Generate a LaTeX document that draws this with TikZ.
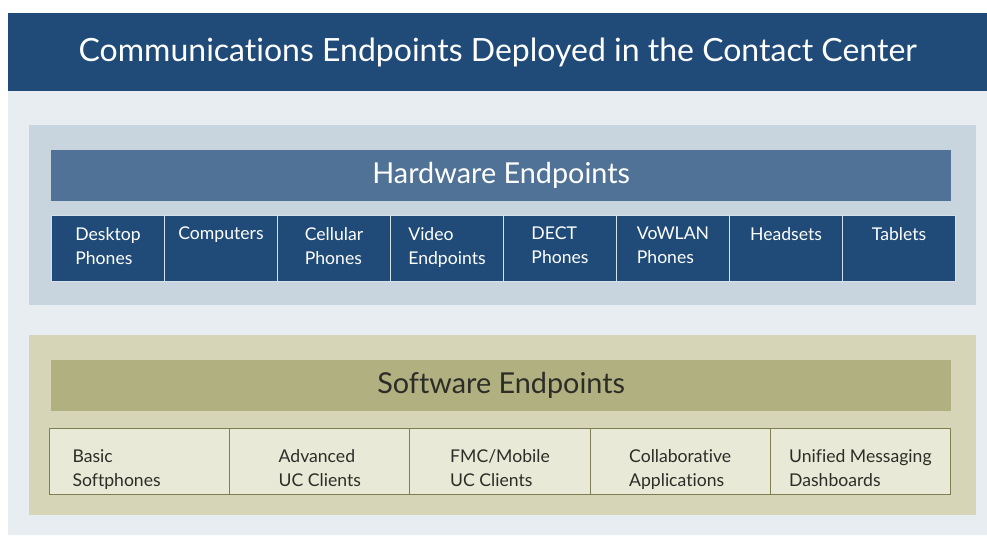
\documentclass[tikz,border=0pt]{standalone}
\usepackage{fontspec}
\setmainfont{Lato}[Ligatures=NoCommon]
\definecolor{titleblue}{RGB}{32,75,120}
\definecolor{pageback}{RGB}{232,237,242}
\definecolor{hwpanel}{RGB}{200,212,222}
\definecolor{hwhead}{RGB}{79,114,150}
\definecolor{hwcellfill}{RGB}{32,75,120}
\definecolor{hwline}{RGB}{214,224,232}
\definecolor{swpanel}{RGB}{214,213,183}
\definecolor{swhead}{RGB}{176,176,128}
\definecolor{swcellfill}{RGB}{232,233,214}
\definecolor{swline}{RGB}{126,126,80}
\definecolor{swtext}{RGB}{45,45,40}
\tikzset{
    hwcell/.style={draw=hwline, line width=1pt, fill=hwcellfill, minimum width=113pt, minimum height=66pt, inner sep=0pt, anchor=north west},
    swcell/.style={draw=swline, line width=1pt, fill=swcellfill, minimum width=180.2pt, minimum height=66pt, inner sep=0pt, anchor=north west},
    celltext/.style={anchor=north, align=left, inner sep=0pt, font=\fontsize{17.6}{24}\selectfont},
}
\begin{document}
\begin{tikzpicture}[x=1pt, y=-1pt]
\useasboundingbox (0,0) rectangle (987,535);
\fill[pageback] (8,91) rectangle (987,535);
\node[fill=titleblue, minimum width=979pt, minimum height=78pt, anchor=north west, text=white, font=\fontsize{32}{38}\selectfont] (title) at (8,13) {Communications Endpoints Deployed in the Contact Center};

\begin{scope}
\fill[hwpanel] (29,125) rectangle (976,305);
\node[fill=hwhead, minimum width=900pt, minimum height=51pt, anchor=north west, text=white, font=\fontsize{28.8}{34}\selectfont] (hwhead) at (51,150) {Hardware Endpoints};
\foreach \t [count=\i] in {{Desktop\\Phones}, Computers, {Cellular\\Phones}, {Video\\Endpoints}, {DECT\\Phones}, {VoWLAN\\Phones}, Headsets, Tablets}
{
    \node[hwcell] (hw\i) at ({51+113*(\i-1)},215) {};
    \node[celltext, text=white] (hwt\i) at ([yshift=-12pt]hw\i.north) {\t};
}
\end{scope}

\begin{scope}
\fill[swpanel] (29,335) rectangle (976,515);
\node[fill=swhead, minimum width=900pt, minimum height=51pt, anchor=north west, text=swtext, font=\fontsize{28.8}{34}\selectfont] (swhead) at (51,360) {Software Endpoints};
\foreach \t/\dx [count=\i] in {{Basic\\Softphones}/-23, {Advanced\\UC Clients}/0, {FMC/Mobile\\UC Clients}/0, {Collaborative\\Applications}/0, {Unified Messaging\\Dashboards}/0}
{
    \node[swcell] (sw\i) at ({49+180.2*(\i-1)},428) {};
    \node[celltext, text=swtext] (swt\i) at ([xshift=\dx pt, yshift=-21pt]sw\i.north) {\t};
}
\end{scope}
\end{tikzpicture}
\end{document}
